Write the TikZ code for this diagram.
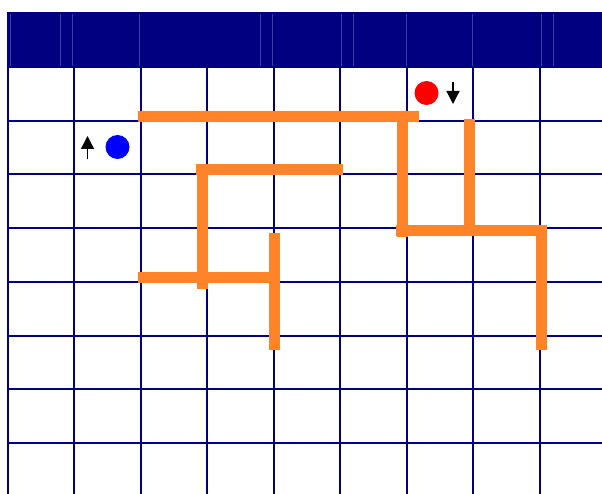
\documentclass[tikz,border=0pt]{standalone}
\usetikzlibrary{arrows.meta}
\definecolor{gridnavy}{RGB}{0,0,128}
\definecolor{headfaint}{RGB}{60,60,170}
\definecolor{wallorange}{RGB}{255,131,41}
\tikzset{
  gridline/.style={draw=gridnavy, line width=1.4pt},
  faintline/.style={draw=headfaint, line width=0.6pt},
  wall/.style={draw=wallorange, line width=11pt, line cap=butt},
  dirarrow/.style={draw=black, line width=1.3pt, -{Triangle[width=13pt,length=13pt]}},
}
\begin{document}
\begin{tikzpicture}[x=1pt,y=-1pt]
\useasboundingbox (0,0) rectangle (602,494);
\fill[white] (0,0) rectangle (602,494);
% header
\fill[gridnavy] (7,12) rectangle (602,67);
\foreach \x in {10,60,72,139,260,272,341,353,406,472,541,553}
  \draw[faintline] (\x,14) -- (\x,66);
% grid
\foreach \x in {8,74,141,207,274,340,407,473,540}
  \draw[gridline] (\x,67) -- (\x,494);
\foreach \y in {67,121,174,228,282,336,389,443}
  \draw[gridline] (8,\y) -- (602,\y);
% walls
\draw[wall] (138,117) -- (419,117);
\draw[wall] (402,112) -- (402,237);
\draw[wall] (396,231) -- (547,231);
\draw[wall] (469,119) -- (469,231);
\draw[wall] (541,225) -- (541,350);
\draw[wall] (196,170) -- (343,170);
\draw[wall] (202,165) -- (202,289);
\draw[wall] (138,277.5) -- (280,277.5);
\draw[wall] (274.5,233) -- (274.5,350);
% agents
\node[circle, fill=red, minimum size=24pt, inner sep=0pt] (redagent) at (426.5,93) {};
\node[circle, fill=blue, minimum size=24pt, inner sep=0pt] (blueagent) at (117.5,147) {};
\coordinate (downA) at (453,82);
\coordinate (downB) at (453,104);
\coordinate (upA) at (87.5,159);
\coordinate (upB) at (87.5,136);
\draw[dirarrow] (downA) -- (downB);
\draw[dirarrow] (upA) -- (upB);
\end{tikzpicture}
\end{document}
